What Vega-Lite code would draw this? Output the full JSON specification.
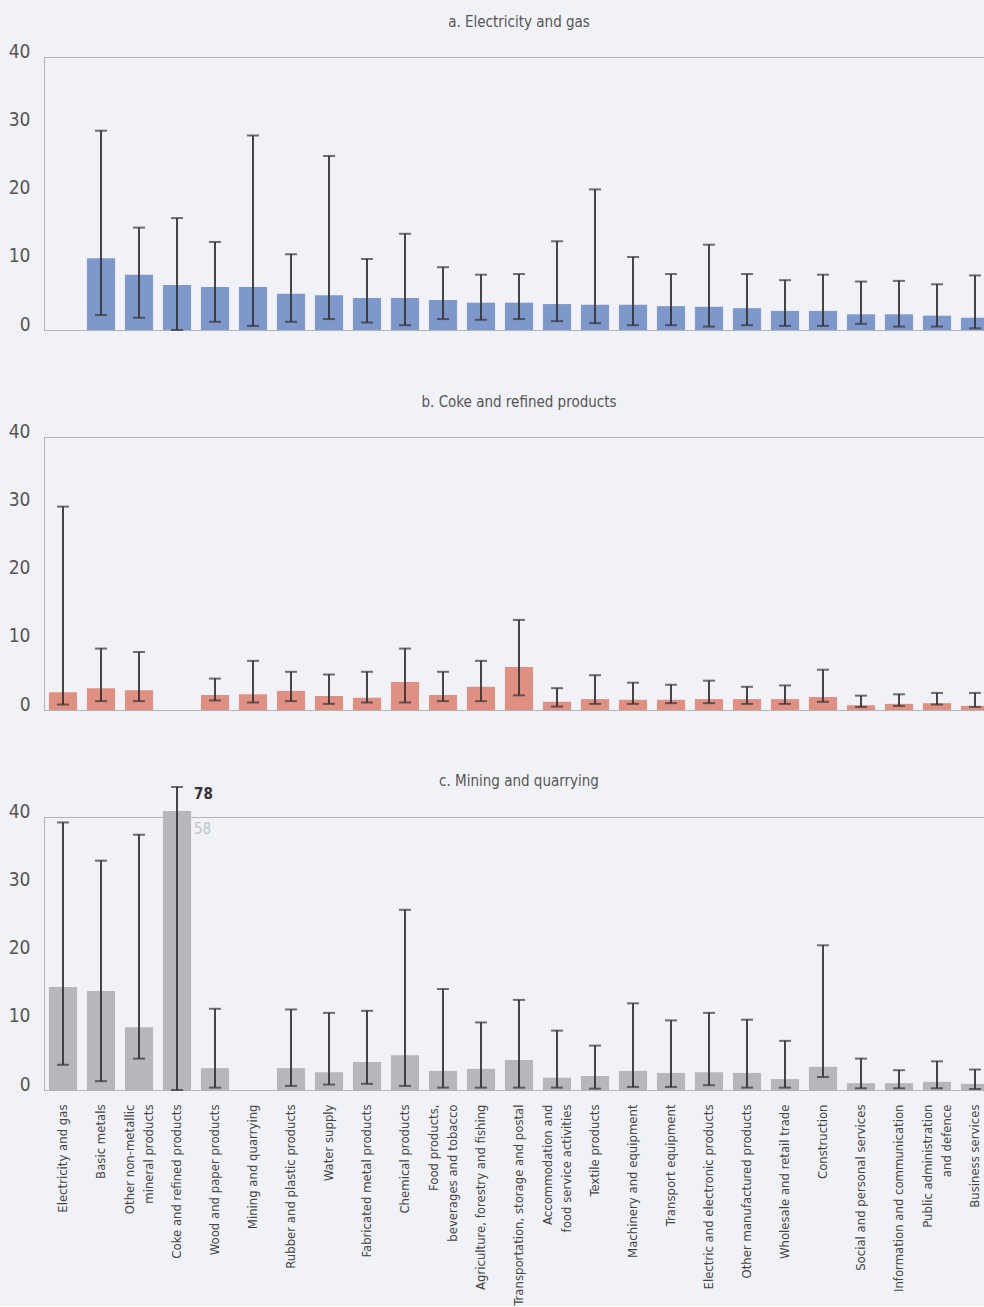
{
  "$schema": "https://vega.github.io/schema/vega-lite/v6.json",
  "background": "#f1f2f7",
  "padding": {"left": 7, "top": 14, "right": 0, "bottom": 0},
  "spacing": 107,
  "bounds": "flush",
  "datasets": {
    "a": [
      {"sector": "Basic metals", "value": 10.5, "lower": 2.2, "upper": 29.2},
      {"sector": "Other non-metallic mineral products", "value": 8.1, "lower": 1.8, "upper": 15.0},
      {"sector": "Coke and refined products", "value": 6.6, "lower": 0, "upper": 16.4},
      {"sector": "Wood and paper products", "value": 6.3, "lower": 1.2, "upper": 12.9},
      {"sector": "Mining and quarrying", "value": 6.3, "lower": 0.6, "upper": 28.5},
      {"sector": "Rubber and plastic products", "value": 5.3, "lower": 1.2, "upper": 11.1},
      {"sector": "Water supply", "value": 5.1, "lower": 1.6, "upper": 25.5},
      {"sector": "Fabricated metal products", "value": 4.7, "lower": 1.1, "upper": 10.4},
      {"sector": "Chemical products", "value": 4.7, "lower": 0.7, "upper": 14.1},
      {"sector": "Food products, beverages and tobacco", "value": 4.4, "lower": 1.6, "upper": 9.2},
      {"sector": "Agriculture, forestry and fishing", "value": 4.0, "lower": 1.5, "upper": 8.1},
      {"sector": "Transportation, storage and postal", "value": 4.0, "lower": 1.6, "upper": 8.2},
      {"sector": "Accommodation and food service activities", "value": 3.8, "lower": 1.3, "upper": 13.0},
      {"sector": "Textile products", "value": 3.7, "lower": 1.0, "upper": 20.6},
      {"sector": "Machinery and equipment", "value": 3.7, "lower": 0.7, "upper": 10.7},
      {"sector": "Transport equipment", "value": 3.5, "lower": 0.7, "upper": 8.2},
      {"sector": "Electric and electronic products", "value": 3.4, "lower": 0.5, "upper": 12.5},
      {"sector": "Other manufactured products", "value": 3.2, "lower": 0.7, "upper": 8.2},
      {"sector": "Wholesale and retail trade", "value": 2.8, "lower": 0.6, "upper": 7.3},
      {"sector": "Construction", "value": 2.8, "lower": 0.6, "upper": 8.1},
      {"sector": "Social and personal services", "value": 2.3, "lower": 0.9, "upper": 7.1},
      {"sector": "Information and communication", "value": 2.3, "lower": 0.5, "upper": 7.2},
      {"sector": "Public administration and defence", "value": 2.1, "lower": 0.5, "upper": 6.7},
      {"sector": "Business services", "value": 1.8, "lower": 0.25, "upper": 8.0}
    ],
    "b": [
      {"sector": "Electricity and gas", "value": 2.6, "lower": 0.8, "upper": 29.8},
      {"sector": "Basic metals", "value": 3.2, "lower": 1.3, "upper": 9.0},
      {"sector": "Other non-metallic mineral products", "value": 2.9, "lower": 1.3, "upper": 8.5},
      {"sector": "Wood and paper products", "value": 2.2, "lower": 1.4, "upper": 4.6},
      {"sector": "Mining and quarrying", "value": 2.3, "lower": 1.1, "upper": 7.2},
      {"sector": "Rubber and plastic products", "value": 2.8, "lower": 1.3, "upper": 5.6},
      {"sector": "Water supply", "value": 2.05, "lower": 0.9, "upper": 5.2},
      {"sector": "Fabricated metal products", "value": 1.8, "lower": 1.1, "upper": 5.6},
      {"sector": "Chemical products", "value": 4.1, "lower": 1.1, "upper": 9.0},
      {"sector": "Food products, beverages and tobacco", "value": 2.2, "lower": 1.3, "upper": 5.6},
      {"sector": "Agriculture, forestry and fishing", "value": 3.4, "lower": 1.3, "upper": 7.2},
      {"sector": "Transportation, storage and postal", "value": 6.3, "lower": 2.15, "upper": 13.2},
      {"sector": "Accommodation and food service activities", "value": 1.2, "lower": 0.5, "upper": 3.2},
      {"sector": "Textile products", "value": 1.6, "lower": 0.9, "upper": 5.1},
      {"sector": "Machinery and equipment", "value": 1.5, "lower": 0.9, "upper": 4.0},
      {"sector": "Transport equipment", "value": 1.5, "lower": 1.0, "upper": 3.7},
      {"sector": "Electric and electronic products", "value": 1.6, "lower": 1.0, "upper": 4.3},
      {"sector": "Other manufactured products", "value": 1.6, "lower": 0.9, "upper": 3.4},
      {"sector": "Wholesale and retail trade", "value": 1.6, "lower": 0.9, "upper": 3.6},
      {"sector": "Construction", "value": 1.9, "lower": 1.2, "upper": 5.9},
      {"sector": "Social and personal services", "value": 0.7, "lower": 0.45, "upper": 2.1},
      {"sector": "Information and communication", "value": 0.9, "lower": 0.6, "upper": 2.3},
      {"sector": "Public administration and defence", "value": 1.0, "lower": 0.8, "upper": 2.5},
      {"sector": "Business services", "value": 0.6, "lower": 0.45, "upper": 2.5}
    ],
    "c": [
      {"sector": "Electricity and gas", "value": 15.1, "lower": 3.7, "upper": 39.2},
      {"sector": "Basic metals", "value": 14.5, "lower": 1.3, "upper": 33.6},
      {"sector": "Other non-metallic mineral products", "value": 9.2, "lower": 4.6, "upper": 37.4},
      {"sector": "Coke and refined products", "value": 58, "lower": 0, "upper": 78},
      {"sector": "Wood and paper products", "value": 3.2, "lower": 0.35, "upper": 11.9},
      {"sector": "Rubber and plastic products", "value": 3.2, "lower": 0.6, "upper": 11.8},
      {"sector": "Water supply", "value": 2.6, "lower": 0.8, "upper": 11.3},
      {"sector": "Fabricated metal products", "value": 4.1, "lower": 0.9, "upper": 11.6},
      {"sector": "Chemical products", "value": 5.1, "lower": 0.6, "upper": 26.4},
      {"sector": "Food products, beverages and tobacco", "value": 2.8, "lower": 0.35, "upper": 14.8},
      {"sector": "Agriculture, forestry and fishing", "value": 3.1, "lower": 0.35, "upper": 9.9},
      {"sector": "Transportation, storage and postal", "value": 4.4, "lower": 0.35, "upper": 13.2},
      {"sector": "Accommodation and food service activities", "value": 1.8, "lower": 0.35, "upper": 8.7},
      {"sector": "Textile products", "value": 2.05, "lower": 0.2, "upper": 6.5},
      {"sector": "Machinery and equipment", "value": 2.8, "lower": 0.45, "upper": 12.7},
      {"sector": "Transport equipment", "value": 2.5, "lower": 0.45, "upper": 10.2},
      {"sector": "Electric and electronic products", "value": 2.6, "lower": 0.7, "upper": 11.3},
      {"sector": "Other manufactured products", "value": 2.5, "lower": 0.35, "upper": 10.3},
      {"sector": "Wholesale and retail trade", "value": 1.6, "lower": 0.35, "upper": 7.2},
      {"sector": "Construction", "value": 3.4, "lower": 1.9, "upper": 21.2},
      {"sector": "Social and personal services", "value": 1.0, "lower": 0.25, "upper": 4.6},
      {"sector": "Information and communication", "value": 1.0, "lower": 0.25, "upper": 2.9},
      {"sector": "Public administration and defence", "value": 1.2, "lower": 0.25, "upper": 4.2},
      {"sector": "Business services", "value": 0.9, "lower": 0.15, "upper": 3.0}
    ]
  },
  "vconcat": [
    {
      "width": 950, "height": 273,
      "title": {"text": "a. Electricity and gas", "offset": 12},
      "data": {"name": "a"},
      "encoding": {
        "x": {"field": "sector", "type": "nominal", "axis": null,
          "scale": {"paddingInner": 0.26, "paddingOuter": 0.13, "domain": ["Electricity and gas", "Basic metals", "Other non-metallic mineral products", "Coke and refined products", "Wood and paper products", "Mining and quarrying", "Rubber and plastic products", "Water supply", "Fabricated metal products", "Chemical products", "Food products, beverages and tobacco", "Agriculture, forestry and fishing", "Transportation, storage and postal", "Accommodation and food service activities", "Textile products", "Machinery and equipment", "Transport equipment", "Electric and electronic products", "Other manufactured products", "Wholesale and retail trade", "Construction", "Social and personal services", "Information and communication", "Public administration and defence", "Business services"]}}
      },
      "layer": [
        {"mark": {"type": "bar", "color": "#7f98cb", "clip": false},
         "encoding": {"y": {"field": "value", "type": "quantitative",
           "scale": {"domain": [0, 40, 58, 78], "range": [273, 0, -6, -30], "nice": false, "zero": false},
           "axis": {"values": [0, 10, 20, 30, 40], "title": null}}}},
        {"mark": {"type": "rule", "color": "#333333", "strokeWidth": 1.8, "clip": false},
         "encoding": {"y": {"field": "lower", "type": "quantitative"}, "y2": {"field": "upper"}}},
        {"mark": {"type": "tick", "color": "#333333", "size": 12, "thickness": 2, "clip": false},
         "encoding": {"y": {"field": "upper", "type": "quantitative"}}},
        {"mark": {"type": "tick", "color": "#333333", "size": 12, "thickness": 2, "clip": false},
         "encoding": {"y": {"field": "lower", "type": "quantitative"}}}
      ]
    },
    {
      "width": 950, "height": 273,
      "title": {"text": "b. Coke and refined products", "offset": 12},
      "data": {"name": "b"},
      "encoding": {
        "x": {"field": "sector", "type": "nominal", "axis": null,
          "scale": {"paddingInner": 0.26, "paddingOuter": 0.13, "domain": ["Electricity and gas", "Basic metals", "Other non-metallic mineral products", "Coke and refined products", "Wood and paper products", "Mining and quarrying", "Rubber and plastic products", "Water supply", "Fabricated metal products", "Chemical products", "Food products, beverages and tobacco", "Agriculture, forestry and fishing", "Transportation, storage and postal", "Accommodation and food service activities", "Textile products", "Machinery and equipment", "Transport equipment", "Electric and electronic products", "Other manufactured products", "Wholesale and retail trade", "Construction", "Social and personal services", "Information and communication", "Public administration and defence", "Business services"]}}
      },
      "layer": [
        {"mark": {"type": "bar", "color": "#e09083", "clip": false},
         "encoding": {"y": {"field": "value", "type": "quantitative",
           "scale": {"domain": [0, 40, 58, 78], "range": [273, 0, -6, -30], "nice": false, "zero": false},
           "axis": {"values": [0, 10, 20, 30, 40], "title": null}}}},
        {"mark": {"type": "rule", "color": "#333333", "strokeWidth": 1.8, "clip": false},
         "encoding": {"y": {"field": "lower", "type": "quantitative"}, "y2": {"field": "upper"}}},
        {"mark": {"type": "tick", "color": "#333333", "size": 12, "thickness": 2, "clip": false},
         "encoding": {"y": {"field": "upper", "type": "quantitative"}}},
        {"mark": {"type": "tick", "color": "#333333", "size": 12, "thickness": 2, "clip": false},
         "encoding": {"y": {"field": "lower", "type": "quantitative"}}}
      ]
    },
    {
      "width": 950, "height": 273,
      "title": {"text": "c. Mining and quarrying", "offset": -3},
      "data": {"name": "c"},
      "encoding": {
        "x": {"field": "sector", "type": "nominal",
          "axis": {"title": null, "domain": false, "ticks": false, "labelAngle": -90, "labelAlign": "right", "labelBaseline": "middle", "labelFontSize": 13, "labelColor": "#444444", "labelPadding": 14, "labelLineHeight": 19, "labelLimit": 400,
            "labelOffset": {"condition": {"test": "datum.value == 'Other non-metallic mineral products' || datum.value == 'Food products, beverages and tobacco' || datum.value == 'Accommodation and food service activities' || datum.value == 'Public administration and defence'", "value": -9.5}, "value": 0},
            "labelExpr": "datum.value == 'Other non-metallic mineral products' ? ['Other non-metallic', 'mineral products'] : datum.value == 'Food products, beverages and tobacco' ? ['Food products,', 'beverages and tobacco'] : datum.value == 'Accommodation and food service activities' ? ['Accommodation and', 'food service activities'] : datum.value == 'Public administration and defence' ? ['Public administration', 'and defence'] : datum.value"},
          "scale": {"paddingInner": 0.26, "paddingOuter": 0.13, "domain": ["Electricity and gas", "Basic metals", "Other non-metallic mineral products", "Coke and refined products", "Wood and paper products", "Mining and quarrying", "Rubber and plastic products", "Water supply", "Fabricated metal products", "Chemical products", "Food products, beverages and tobacco", "Agriculture, forestry and fishing", "Transportation, storage and postal", "Accommodation and food service activities", "Textile products", "Machinery and equipment", "Transport equipment", "Electric and electronic products", "Other manufactured products", "Wholesale and retail trade", "Construction", "Social and personal services", "Information and communication", "Public administration and defence", "Business services"]}}
      },
      "layer": [
        {"mark": {"type": "bar", "color": "#b6b7bb", "clip": false},
         "encoding": {"y": {"field": "value", "type": "quantitative",
           "scale": {"domain": [0, 40, 58, 78], "range": [273, 0, -6, -30], "nice": false, "zero": false},
           "axis": {"values": [0, 10, 20, 30, 40], "title": null}}}},
        {"mark": {"type": "rule", "color": "#333333", "strokeWidth": 1.8, "clip": false},
         "encoding": {"y": {"field": "lower", "type": "quantitative"}, "y2": {"field": "upper"}}},
        {"mark": {"type": "tick", "color": "#333333", "size": 12, "thickness": 2, "clip": false},
         "encoding": {"y": {"field": "upper", "type": "quantitative"}}},
        {"mark": {"type": "tick", "color": "#333333", "size": 12, "thickness": 2, "clip": false},
         "encoding": {"y": {"field": "lower", "type": "quantitative"}}},
        {"transform": [{"filter": "datum.value > 40"}],
         "mark": {"type": "text", "align": "left", "baseline": "top", "dx": 17, "dy": 0, "fontSize": 15, "fontWeight": "bold", "color": "#333333", "clip": false},
         "encoding": {"y": {"field": "upper", "type": "quantitative"}, "text": {"field": "upper", "type": "quantitative"}}},
        {"transform": [{"filter": "datum.value > 40"}],
         "mark": {"type": "text", "align": "left", "baseline": "top", "dx": 17, "dy": 11, "fontSize": 15, "color": "#c2c3c8", "clip": false},
         "encoding": {"y": {"field": "value", "type": "quantitative"}, "text": {"field": "value", "type": "quantitative"}}}
      ]
    }
  ],
  "config": {
    "font": "DejaVu Sans Condensed, DejaVu Sans, sans-serif",
    "view": {"stroke": "#777777", "strokeDash": [1, 1], "strokeWidth": 1},
    "axisY": {"domain": false, "ticks": false, "grid": false, "labelFontSize": 19, "labelColor": "#555555", "labelPadding": 14, "labelBaseline": "alphabetic"},
    "title": {"fontSize": 15, "fontWeight": "normal", "color": "#555555", "anchor": "middle", "baseline": "alphabetic"}
  }
}
